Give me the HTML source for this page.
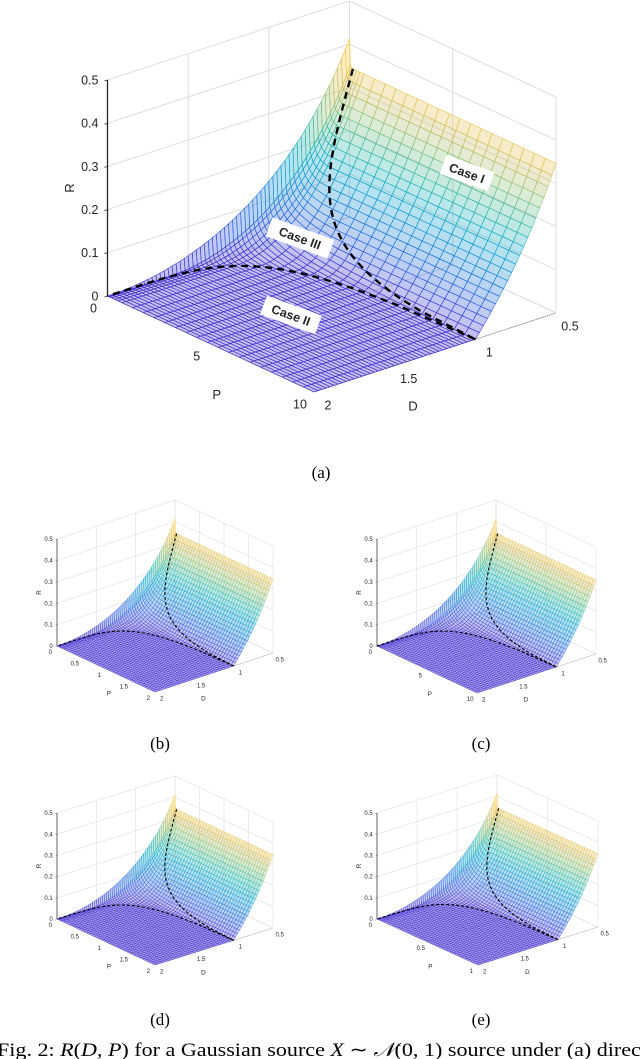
<!DOCTYPE html>
<html><head><meta charset="utf-8"><style>
html,body{margin:0;padding:0;background:#fff;}
svg{display:block;}
.tk{font-family:"Liberation Sans",sans-serif;fill:#262626;}
.cap{font-family:"Liberation Serif",serif;fill:#000;}
</style></head><body>
<svg id="fig" width="640" height="1059" viewBox="0 0 640 1059" xmlns="http://www.w3.org/2000/svg">
<g id="plots"></g>
<text class="cap" x="321" y="478" font-size="17" text-anchor="middle">(a)</text>
<text class="cap" x="160" y="749" font-size="17" text-anchor="middle">(b)</text>
<text class="cap" x="481" y="749" font-size="17" text-anchor="middle">(c)</text>
<text class="cap" x="160" y="1025" font-size="17" text-anchor="middle">(d)</text>
<text class="cap" x="481" y="1025" font-size="17" text-anchor="middle">(e)</text>
<text class="cap" x="-3" y="1056" font-size="19" textLength="650" lengthAdjust="spacingAndGlyphs">Fig. 2: <tspan font-style="italic">R</tspan>(<tspan font-style="italic">D, P</tspan>) for a Gaussian source <tspan font-style="italic">X</tspan> ∼ <tspan font-style="italic">𝒩</tspan>(0, 1) source under (a) direct</text>
</svg>
<script>
// ---- data ----
const rTicks = [0, 0.1, 0.2, 0.3, 0.4, 0.5];
const rTickLabels = ["0", "0.1", "0.2", "0.3", "0.4", "0.5"];
const dTicks = [2, 1.5, 1, 0.5];
const dTickLabels = ["2", "1.5", "1", "0.5"];
const pTicksA = [0, 5, 10];
const pTicksB = [0, 0.5, 1, 1.5, 2];
const pTicksE = [0, 0.5, 1];
const pMaxA = 10, pMaxB = 2, pMaxC = 10, pMaxD = 2, pMaxE = 1;
const perceptionExponent = 0.3;
const rMax = 0.5;

function rate(D, p) {
  const s = Math.max(0, 1 - Math.pow(Math.max(p, 0), perceptionExponent));
  if (D <= 1 - s * s) return D < 1 ? 0.5 * Math.log(1 / D) : 0;
  const c = (1 + s * s - D) / 2;
  if (c <= 0) return 0;
  return 0.5 * Math.log(s * s / (s * s - c * c));
}
const parula = [[0,[60,40,205]],[0.13,[40,90,225]],[0.25,[20,129,214]],[0.38,[6,164,202]],[0.5,[46,183,164]],[0.63,[135,191,119]],[0.75,[209,187,89]],[0.88,[254,200,50]],[1,[249,251,14]]];
function cmap(t) {
  t = Math.max(0, Math.min(1, t));
  for (let i = 1; i < parula.length; i++) {
    if (t <= parula[i][0]) {
      const a = parula[i-1], b = parula[i], f = (t - a[0]) / (b[0] - a[0]);
      const c = a[1].map((v, k) => Math.round(v + f * (b[1][k] - v)));
      return 'rgb(' + c.join(',') + ')';
    }
  }
  return 'rgb(249,251,14)';
}
const NS = 'http://www.w3.org/2000/svg';
function mk(tag, attrs, parent) {
  const e = document.createElementNS(NS, tag);
  for (const k in attrs) e.setAttribute(k, attrs[k]);
  parent.appendChild(e);
  return e;
}
const root = document.getElementById('plots');

function drawPlot(cfg) {
  const g = mk('g', {}, root);
  
  
  const sc = cfg.s;
  function pt(P, D, R) {
    const u = P / cfg.pmax, v = (2 - D) / 1.5;
    return [cfg.L[0] + u * cfg.Pv[0] + v * cfg.Dv[0], cfg.L[1] + u * cfg.Pv[1] + v * cfg.Dv[1] - R * cfg.rs];
  }
  const f2 = a => a[0].toFixed(2) + ',' + a[1].toFixed(2);
  const grid = mk('g', {stroke: '#dedede', 'stroke-width': 0.8 * sc + 0.2, fill: 'none'}, g);
  
  
  rTicks.forEach(r => {
    const a = pt(0, 2, r), b = pt(0, 0.5, r), c = pt(cfg.pmax, 0.5, r);
    mk('polyline', {points: f2(a) + ' ' + f2(b) + ' ' + f2(c)}, grid);
  });
  dTicks.forEach(d => { const a = pt(0, d, 0), b = pt(0, d, rMax); mk('line', {x1: a[0], y1: a[1], x2: b[0], y2: b[1]}, grid); });
  cfg.pticks.forEach(p => { const a = pt(p, 0.5, 0), b = pt(p, 0.5, rMax); mk('line', {x1: a[0], y1: a[1], x2: b[0], y2: b[1]}, grid); });
  dTicks.forEach(d => { const a = pt(0, d, 0), b = pt(cfg.pmax, d, 0); mk('line', {x1: a[0], y1: a[1], x2: b[0], y2: b[1]}, grid); });
  cfg.pticks.forEach(p => { const a = pt(p, 2, 0), b = pt(p, 0.5, 0); mk('line', {x1: a[0], y1: a[1], x2: b[0], y2: b[1]}, grid); });
  const ax = mk('g', {stroke: '#777', 'stroke-width': 0.7 * sc + 0.1, fill: 'none', 'stroke-dasharray': (1.2*sc)+','+(1.2*sc)}, g);
  
  
  { const a = pt(0, 2, 0), b = pt(cfg.pmax, 2, 0), c = pt(cfg.pmax, 0.5, 0);
    mk('polyline', {points: f2(a) + ' ' + f2(b) + ' ' + f2(c)}, ax); }
  const za = pt(0, 2, 0), zb = pt(0, 2, rMax);
  const zl = mk('line', {x1: za[0], y1: za[1], x2: zb[0], y2: zb[1], stroke: '#262626', 'stroke-width': 1.2 * sc + 0.1}, g);
  
  
  const Dg = [], Pg = [];
  for (let i = 0; i <= cfg.nd; i++) Dg.push(0.5 + 1.5 * i / cfg.nd);
  const pf = [0, 0.005, 0.01, 0.02, 0.035, 0.05, 0.07];
  pf.forEach(x => Pg.push(x * cfg.pmax));
  for (let j = 1; j <= cfg.np; j++) Pg.push(cfg.pmax * (0.07 + 0.93 * j / cfg.np));
  const faces = [];
  for (let i = 0; i < Dg.length - 1; i++) for (let j = 0; j < Pg.length - 1; j++) {
    const c = [[Pg[j], Dg[i]], [Pg[j+1], Dg[i]], [Pg[j+1], Dg[i+1]], [Pg[j], Dg[i+1]]];
    const rs = c.map(q => rate(q[1], q[0] / cfg.pmax));
    const avg = (rs[0] + rs[1] + rs[2] + rs[3]) / 4;
    const depth = (Pg[j] + Pg[j+1]) / (2 * cfg.pmax) - (4 - Dg[i] - Dg[i+1]) / 3;
    faces.push({pts: c.map((q, k) => pt(q[0], q[1], rs[k])), r: avg, depth});
  }
  faces.sort((a, b) => a.depth - b.depth);
  const surf = mk('g', {'stroke-width': cfg.sw, 'stroke-linejoin': 'round'}, g);
  
  
  faces.forEach(f => {
    const col = cmap(f.r / 0.42);
    mk('polygon', {points: f.pts.map(f2).join(' '), fill: col, 'fill-opacity': 0.3, stroke: col, 'stroke-opacity': 0.9}, surf);
  });
  const b1 = [], b2 = [];
  for (let k = 0; k <= 60; k++) {
    const D = 0.5 + 0.5 * k / 60;
    const p = Math.pow(1 - Math.sqrt(Math.max(0, 1 - D)), 1 / perceptionExponent);
    b1.push(pt(p * cfg.pmax, D, rate(D, p)));
    const D2 = 1 + k / 60;
    const p2 = Math.pow(1 - Math.sqrt(D2 - 1), 1 / perceptionExponent);
    b2.push(pt(p2 * cfg.pmax, D2, 0));
  }
  [b1, b2].forEach((b, idx) => {
    const l = mk('polyline', {points: b.map(f2).join(' '), fill: 'none', stroke: '#000', 'stroke-width': cfg.dw, 'stroke-dasharray': cfg.dash}, g);
    
    
  });
  const fs = cfg.fs;
  rTicks.forEach((r, i) => {
    const a = pt(0, 2, r);
    mk('line', {x1: a[0], y1: a[1], x2: a[0] - 3 * sc, y2: a[1] + 1 * sc, stroke: '#262626', 'stroke-width': 0.8 * sc}, g);
    const t = mk('text', {x: a[0] - 9 * sc, y: a[1] + fs * 0.35, 'font-size': fs, 'text-anchor': 'end', class: 'tk'}, g);
    t.textContent = rTickLabels[i];
    
    
  });
  cfg.pticks.forEach((p, i) => {
    const a = pt(p, 2, 0);
    const t = mk('text', {x: a[0] - 14 * sc, y: a[1] + 12 * sc + fs * 0.35, 'font-size': fs, 'text-anchor': 'middle', class: 'tk'}, g);
    t.textContent = cfg.pticks[i].toString();
    
    
  });
  dTicks.forEach((d, i) => {
    const a = pt(cfg.pmax, d, 0);
    const t = mk('text', {x: a[0] + 14 * sc, y: a[1] + 13 * sc + fs * 0.35, 'font-size': fs, 'text-anchor': 'middle', class: 'tk'}, g);
    t.textContent = dTickLabels[i];
    
    
  });
  const pm = pt(cfg.pmax / 2, 2, 0), dm = pt(cfg.pmax, 1.25, 0), rm = pt(0, 2, 0.25);
  const tp = mk('text', {x: pm[0] + 6 * sc, y: pm[1] + 55 * sc, 'font-size': fs * 1.05, 'text-anchor': 'middle', class: 'tk'}, g);
  tp.textContent = 'P';
  
  
  const td = mk('text', {x: dm[0] - 22 * sc, y: dm[1] + 58 * sc, 'font-size': fs * 1.05, 'text-anchor': 'middle', class: 'tk'}, g);
  td.textContent = 'D';
  
  
  const tr = mk('text', {x: rm[0] - 38 * sc, y: rm[1] + fs * 0.35, 'font-size': fs * 1.05, 'text-anchor': 'middle', class: 'tk', transform: 'rotate(-90 ' + (rm[0] - 38 * sc) + ' ' + (rm[1]) + ')'}, g);
  tr.textContent = 'R';
  
  
  return g;
}

const main = drawPlot({name: 'plot-a', L: [107.5, 296], Pv: [206.5, 96], Dv: [242, -79], rs: 432, pmax: pMaxA, pticks: pTicksA, nd: 60, np: 18, sw: 0.6, dw: 2.4, dash: '7,5', fs: 12.5, s: 1});
drawPlot({name: 'plot-b', L: [57, 646], Pv: [98, 46], Dv: [118, -39], rs: 214, pmax: pMaxB, pticks: pTicksB, nd: 60, np: 36, sw: 0.35, dw: 1.1, dash: '3,2', fs: 6, s: 0.48});
drawPlot({name: 'plot-c', L: [377, 646], Pv: [100, 47], Dv: [119, -39], rs: 214, pmax: pMaxC, pticks: pTicksA, nd: 60, np: 36, sw: 0.35, dw: 1.1, dash: '3,2', fs: 6, s: 0.48});
drawPlot({name: 'plot-d', L: [57, 919], Pv: [98, 46], Dv: [118, -37], rs: 212, pmax: pMaxD, pticks: pTicksB, nd: 60, np: 36, sw: 0.35, dw: 1.1, dash: '3,2', fs: 6, s: 0.48});
drawPlot({name: 'plot-e', L: [377, 919], Pv: [101, 46], Dv: [120, -38], rs: 212, pmax: pMaxE, pticks: pTicksE, nd: 60, np: 36, sw: 0.35, dw: 1.1, dash: '3,2', fs: 6, s: 0.48});

const cases = [["Case I", 467, 173], ["Case III", 300, 238], ["Case II", 291, 315]];
cases.forEach(c => {
  const g = mk('g', {transform: 'translate(' + c[1] + ',' + c[2] + ') rotate(20)'}, main);
  
  
  const w = c[0].length * 7.2 + 8;
  mk('rect', {x: -w / 2, y: -10, width: w, height: 20, fill: '#fff'}, g);
  const t = mk('text', {x: 0, y: 4.5, 'font-size': 12.5, 'font-weight': 'bold', 'text-anchor': 'middle', class: 'tk', fill: '#000'}, g);
  t.textContent = c[0];
});
</script>
</body></html>
